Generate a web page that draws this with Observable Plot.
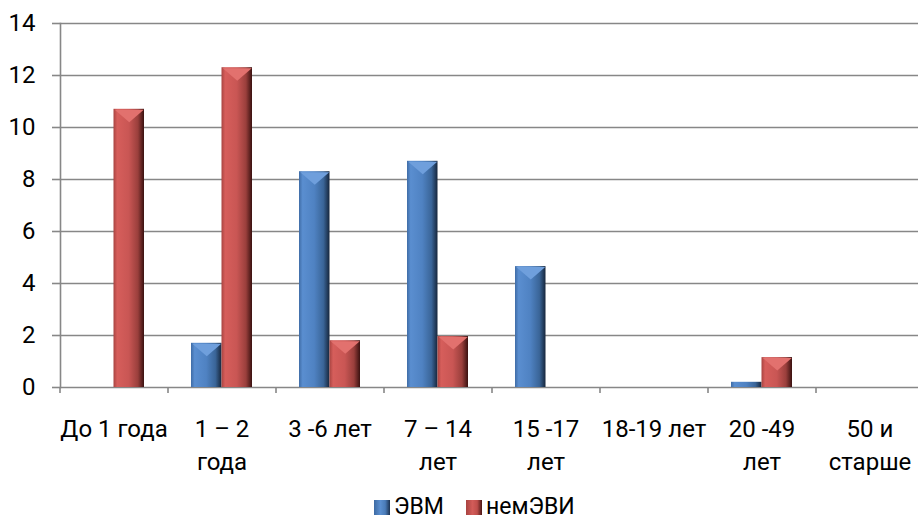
<!DOCTYPE html>
<html>
<head>
<meta charset="utf-8">
<script src="https://cdn.jsdelivr.net/npm/d3@7"></script>
<script src="https://cdn.jsdelivr.net/npm/@observablehq/plot@0.6"></script>
<style>
  body { margin: 0; background: #fff; font-family: Roboto, "Noto Sans", sans-serif; }
  #chart { position: relative; width: 918px; height: 520px; overflow: hidden; }
  #chart svg { display: block; }
  .legend { position: absolute; top: 496px; left: 374px; display: flex; align-items: center;
            font-size: 23px; line-height: 22px; color: #000; }
  .sw { display: inline-block; width: 16px; height: 15px; margin-right: 4px; }
  .sw.blue { background: linear-gradient(90deg, #3d6aa3, #5b8fd0 40%, #4a7cb9 70%, #1d3352); }
  .sw.red  { background: linear-gradient(90deg, #a84340, #d35c59 40%, #bf4e4b 70%, #4a1716); margin-left: 22px; }
</style>
</head>
<body>
<div id="chart"></div>
<script>
// Age groups (line breaks as in the axis labels)
const ageGroups = ["До 1 года", "1 – 2\nгода", "3 -6 лет", "7 – 14\nлет", "15 -17\nлет", "18-19 лет", "20 -49\nлет", "50 и\nстарше"];
// Series values per age group
const evmValues = [0, 1.7, 8.3, 8.7, 4.65, 0, 0.2, 0];
const nonEvmValues = [10.7, 12.3, 1.8, 1.96, 0, 0, 1.15, 0];
const seriesNames = ["ЭВМ", "немЭВИ"];
const yTicks = [0, 2, 4, 6, 8, 10, 12, 14];

const evmRows = ageGroups.map((g, i) => ({group: g, value: evmValues[i]}));
const nonEvmRows = ageGroups.map((g, i) => ({group: g, value: nonEvmValues[i]}));

const gray = "#878787";
const halfBar = 30.5;

// light bevel facet drawn on the top of each column
const bevel = {
  draw(context) {
    context.moveTo(-14.5, 0.5);
    context.lineTo(14.5, 0.5);
    context.lineTo(0, 13);
    context.closePath();
  }
};
const tall = (rows) => rows.filter((d) => d.value >= 0.6);

const svg = Plot.plot({
  width: 918,
  height: 482,
  marginLeft: 60,
  marginRight: -6,
  marginTop: 23,
  marginBottom: 95,
  style: {fontFamily: "Roboto, 'Noto Sans', sans-serif", fontSize: "24px", color: "#000", background: "#fff"},
  x: {domain: ageGroups, paddingInner: 0.435, paddingOuter: 0.2175, label: null},
  y: {domain: [0, 14], label: null},
  marks: [
    Plot.gridY(yTicks, {stroke: gray, strokeOpacity: 1, strokeWidth: 1.6}),
    Plot.frame({anchor: "left", stroke: gray, strokeWidth: 1.6}),
    Plot.axisY(yTicks, {tickSize: 8, tickPadding: 17, stroke: gray, strokeWidth: 1.6, fill: "#000", fontSize: 24, label: null}),
    // boundary ticks between the groups
    Plot.axisX(ageGroups, {tickSize: 6, dx: -54, stroke: gray, strokeWidth: 1.6, tickFormat: () => "", label: null}),
    // group labels centred under each pair of bars
    Plot.axisX(ageGroups, {tickSize: 0, tickPadding: 26, fontSize: 24, lineHeight: 1.375, fill: "#000", label: null}),
    Plot.barY(evmRows, {x: "group", y: "value", insetRight: halfBar, fill: "url(#bar-blue)"}),
    Plot.barY(nonEvmRows, {x: "group", y: "value", insetLeft: halfBar, fill: "url(#bar-red)"}),
    Plot.dot(tall(evmRows), {x: "group", y: "value", dx: -15.25, symbol: bevel, fill: "#6f9fdc", stroke: null}),
    Plot.dot(tall(nonEvmRows), {x: "group", y: "value", dx: 15.25, symbol: bevel, fill: "#e2716e", stroke: null})
  ]
});

// horizontal shading gradients for the bars
const defs = d3.select(svg).insert("defs", ":first-child");
function gradient(id, stops) {
  const g = defs.append("linearGradient").attr("id", id).attr("x1", "0").attr("x2", "1").attr("y1", "0").attr("y2", "0");
  stops.forEach(([o, c]) => g.append("stop").attr("offset", o).attr("stop-color", c));
}
gradient("bar-blue", [[0, "#3f6ca6"], [0.12, "#5a8ed0"], [0.5, "#4f82c2"], [0.8, "#3a6598"], [1, "#16263c"]]);
gradient("bar-red", [[0, "#a84441"], [0.12, "#d65e5b"], [0.5, "#c95654"], [0.8, "#9a3f3c"], [1, "#3a1110"]]);

const chart = document.getElementById("chart");
chart.appendChild(svg);

const legend = document.createElement("div");
legend.className = "legend";
legend.innerHTML = `<span class="sw blue"></span>${seriesNames[0]}<span class="sw red"></span>${seriesNames[1]}`;
chart.appendChild(legend);
</script>
</body>
</html>
